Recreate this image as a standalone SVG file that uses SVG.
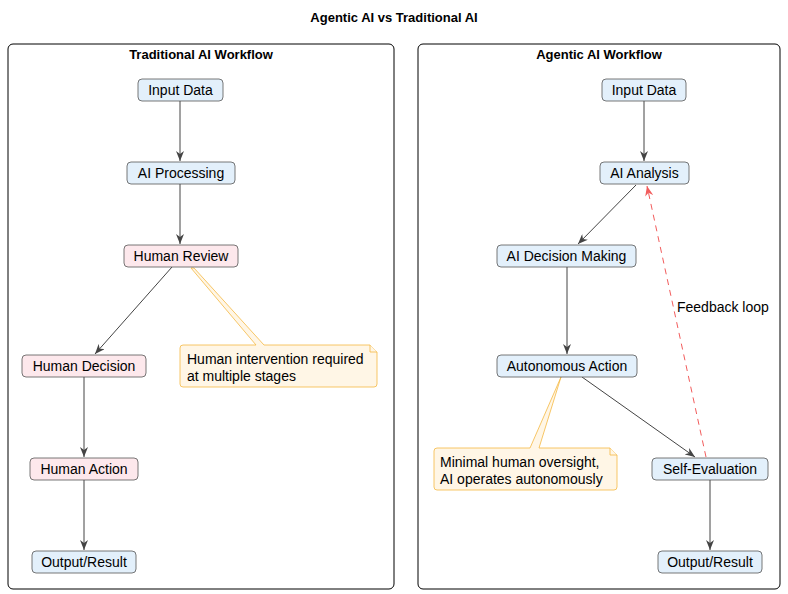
<svg xmlns="http://www.w3.org/2000/svg" width="788" height="594" viewBox="0 0 788 594">
<style>
text{font-family:"Liberation Sans",Arial,sans-serif;font-size:14px;fill:#000}
.t{font-weight:bold;font-size:13px}
.frame{fill:#fff;stroke:#000;stroke-width:1}
.b{fill:#e3f0fb;stroke:#555;stroke-width:0.8}
.p{fill:#fde8ec;stroke:#555;stroke-width:0.8}
.note{fill:#fff6e6;stroke:#f5b942;stroke-width:0.8}
.e{stroke:#444;stroke-width:1;fill:none;marker-end:url(#a)}
.fb{stroke:#f25c5c;stroke-width:1;fill:none;stroke-dasharray:6,5;marker-end:url(#r)}
</style>
<defs>
<marker id="a" viewBox="0 0 10 8" refX="10" refY="4" markerWidth="10" markerHeight="8" orient="auto" markerUnits="userSpaceOnUse"><path d="M0,0 L10,4 L0,8 L3,4 z" fill="#444"/></marker>
<marker id="r" viewBox="0 0 10 8" refX="10" refY="4" markerWidth="10" markerHeight="8" orient="auto" markerUnits="userSpaceOnUse"><path d="M0,0 L10,4 L0,8 L3,4 z" fill="#f25c5c"/></marker>
</defs>
<rect width="788" height="594" fill="#fff"/>
<text x="394" y="22" text-anchor="middle" class="t">Agentic AI vs Traditional AI</text>
<g id="frameL"><rect class="frame" x="8" y="44" width="386" height="545" rx="5"/><text x="201" y="59" text-anchor="middle" class="t">Traditional AI Workflow</text></g>
<g id="frameR"><rect class="frame" x="418" y="44" width="362" height="545" rx="5"/><text x="599" y="59" text-anchor="middle" class="t">Agentic AI Workflow</text></g>
<g id="connectors">
<line class="e" x1="180" y1="101" x2="180" y2="161"/>
<line class="e" x1="180" y1="184" x2="180" y2="244"/>
<line class="e" x1="172" y1="267" x2="95" y2="354"/>
<line class="e" x1="84" y1="377" x2="84" y2="457"/>
<line class="e" x1="84" y1="480" x2="84" y2="550"/>
<line class="e" x1="644" y1="101" x2="644" y2="161"/>
<line class="e" x1="636" y1="185" x2="578" y2="244"/>
<line class="e" x1="567" y1="267" x2="567" y2="354"/>
<line class="e" x1="582" y1="377" x2="695" y2="457"/>
<line class="e" x1="710" y1="480" x2="710" y2="550"/>
<line class="fb" x1="706" y1="457" x2="647" y2="186"/>
<text x="677" y="312">Feedback loop</text>
</g>
<g id="noteL"><path class="note" d="M183,345 H256 L191,268 L194,268 L264,345 H370 L377,352 V384 Q377,387 374,387 H183 Q180,387 180,384 V348 Q180,345 183,345 Z"/><path class="note" d="M370,345 V352 H377" fill="none"/><text x="187" y="364">Human intervention required</text><text x="187" y="381">at multiple stages</text></g>
<g id="noteR"><path class="note" d="M437,448 H530 L561,377 L539,448 H610 L617,455 V487 Q617,490 614,490 H437 Q434,490 434,487 V451 Q434,448 437,448 Z"/><path class="note" d="M610,448 V455 H617" fill="none"/><text x="440" y="467">Minimal human oversight,</text><text x="440" y="484">AI operates autonomously</text></g>
<g id="l1"><rect class="b" x="138" y="79" width="85" height="22" rx="4"/><text x="180.5" y="95" text-anchor="middle">Input Data</text></g>
<g id="l2"><rect class="b" x="127" y="162" width="108" height="22" rx="4"/><text x="181" y="178" text-anchor="middle">AI Processing</text></g>
<g id="l3"><rect class="p" x="124" y="245" width="114" height="22" rx="4"/><text x="181" y="261" text-anchor="middle">Human Review</text></g>
<g id="l4"><rect class="p" x="22" y="355" width="124" height="22" rx="4"/><text x="84" y="371" text-anchor="middle">Human Decision</text></g>
<g id="l5"><rect class="p" x="30" y="458" width="108" height="22" rx="4"/><text x="84" y="474" text-anchor="middle">Human Action</text></g>
<g id="l6"><rect class="b" x="32" y="551" width="104" height="22" rx="4"/><text x="84" y="567" text-anchor="middle">Output/Result</text></g>
<g id="r1"><rect class="b" x="602" y="79" width="84" height="22" rx="4"/><text x="644" y="95" text-anchor="middle">Input Data</text></g>
<g id="r2"><rect class="b" x="600" y="162" width="89" height="22" rx="4"/><text x="644.5" y="178" text-anchor="middle">AI Analysis</text></g>
<g id="r3"><rect class="b" x="497" y="245" width="139" height="22" rx="4"/><text x="566.5" y="261" text-anchor="middle">AI Decision Making</text></g>
<g id="r4"><rect class="b" x="497" y="355" width="140" height="22" rx="4"/><text x="567" y="371" text-anchor="middle">Autonomous Action</text></g>
<g id="r5"><rect class="b" x="652" y="458" width="116" height="22" rx="4"/><text x="710" y="474" text-anchor="middle">Self-Evaluation</text></g>
<g id="r6"><rect class="b" x="658" y="551" width="104" height="22" rx="4"/><text x="710" y="567" text-anchor="middle">Output/Result</text></g>
</svg>
